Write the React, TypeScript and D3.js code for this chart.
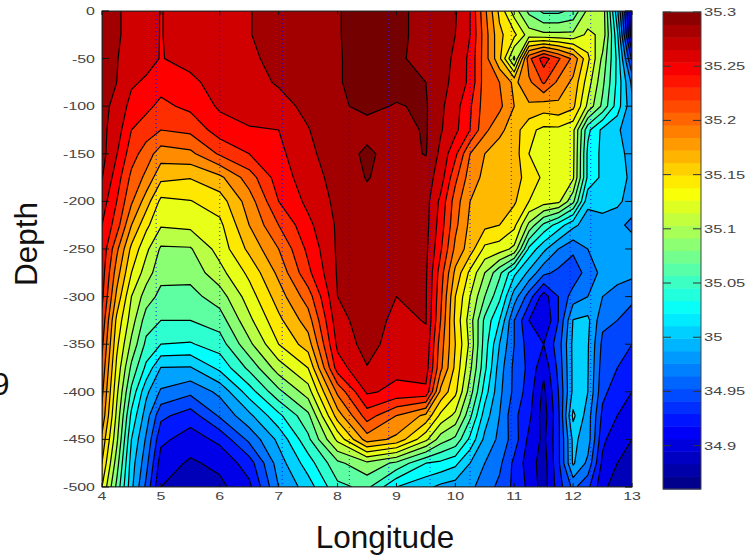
import React from "react";
import * as d3 from "d3";

const lons = [4, 4.25, 4.5, 4.75, 5, 5.5, 6, 6.5, 7, 7.5, 8, 8.5, 9, 9.5, 9.75, 10, 10.25, 10.5, 10.75, 11, 11.25, 11.5, 11.75, 12, 12.25, 12.5, 12.75, 13];
const depths = [0, -25, -50, -75, -100, -125, -150, -175, -200, -225, -250, -275, -300, -325, -350, -375, -400, -425, -450, -475, -500];

// salinity, one list per longitude, top to bottom
const salinity = [
  [35.285, 35.285, 35.285, 35.28, 35.28, 35.28, 35.282, 35.276, 35.265, 35.255, 35.25, 35.245, 35.24, 35.23, 35.22, 35.21, 35.2, 35.19, 35.17, 35.155, 35.135],
  [35.277, 35.277, 35.276, 35.275, 35.27, 35.265, 35.256, 35.245, 35.235, 35.225, 35.2, 35.185, 35.17, 35.15, 35.14, 35.13, 35.12, 35.11, 35.1, 35.085, 35.07],
  [35.27, 35.27, 35.265, 35.258, 35.248, 35.235, 35.224, 35.21, 35.198, 35.175, 35.15, 35.135, 35.115, 35.105, 35.09, 35.07, 35.05, 35.03, 35.015, 35.005, 35.0],
  [35.265, 35.265, 35.262, 35.252, 35.24, 35.225, 35.205, 35.19, 35.165, 35.14, 35.12, 35.105, 35.085, 35.065, 35.05, 35.03, 35.0, 34.985, 34.972, 34.962, 34.95],
  [35.254, 35.254, 35.254, 35.243, 35.23, 35.215, 35.185, 35.16, 35.13, 35.117, 35.092, 35.082, 35.069, 35.055, 35.035, 34.994, 34.972, 34.94, 34.92, 34.905, 34.895],
  [35.268, 35.268, 35.262, 35.25, 35.24, 35.22, 35.19, 35.156, 35.134, 35.12, 35.093, 35.082, 35.068, 35.055, 35.033, 34.993, 34.96, 34.925, 34.905, 34.892, 34.885],
  [35.272, 35.27, 35.268, 35.264, 35.258, 35.245, 35.218, 35.17, 35.145, 35.13, 35.123, 35.108, 35.085, 35.065, 35.045, 35.02, 34.98, 34.958, 34.92, 34.9, 34.89],
  [35.274, 35.274, 35.272, 35.268, 35.265, 35.253, 35.235, 35.205, 35.185, 35.175, 35.16, 35.14, 35.125, 35.11, 35.09, 35.06, 35.025, 34.99, 34.96, 34.925, 34.91],
  [35.285, 35.285, 35.28, 35.277, 35.268, 35.255, 35.25, 35.245, 35.235, 35.215, 35.195, 35.18, 35.165, 35.15, 35.135, 35.105, 35.07, 35.03, 35.0, 34.985, 34.975],
  [35.288, 35.288, 35.285, 35.283, 35.28, 35.274, 35.27, 35.265, 35.26, 35.25, 35.24, 35.23, 35.205, 35.185, 35.165, 35.135, 35.105, 35.07, 35.05, 35.025, 35.005],
  [35.294, 35.294, 35.294, 35.294, 35.293, 35.29, 35.287, 35.283, 35.28, 35.278, 35.278, 35.277, 35.275, 35.268, 35.26, 35.245, 35.2, 35.165, 35.12, 35.07, 35.05],
  [35.302, 35.302, 35.3, 35.3, 35.298, 35.29, 35.298, 35.296, 35.29, 35.285, 35.285, 35.285, 35.285, 35.285, 35.283, 35.274, 35.258, 35.225, 35.185, 35.09, 35.06],
  [35.302, 35.302, 35.3, 35.3, 35.294, 35.288, 35.288, 35.287, 35.287, 35.287, 35.286, 35.282, 35.275, 35.27, 35.265, 35.26, 35.25, 35.195, 35.17, 35.07, 35.015],
  [35.285, 35.285, 35.285, 35.295, 35.297, 35.297, 35.296, 35.285, 35.283, 35.282, 35.28, 35.278, 35.277, 35.276, 35.27, 35.265, 35.25, 35.17, 35.12, 35.035, 35.0],
  [35.282, 35.282, 35.282, 35.281, 35.279, 35.277, 35.27, 35.265, 35.25, 35.245, 35.238, 35.225, 35.22, 35.215, 35.205, 35.2, 35.17, 35.13, 35.085, 35.03, 34.99],
  [35.277, 35.275, 35.272, 35.27, 35.263, 35.26, 35.24, 35.22, 35.205, 35.2, 35.19, 35.17, 35.155, 35.15, 35.155, 35.15, 35.14, 35.11, 35.07, 35.02, 34.985],
  [35.255, 35.255, 35.25, 35.25, 35.238, 35.235, 35.195, 35.185, 35.175, 35.17, 35.165, 35.13, 35.115, 35.105, 35.11, 35.1, 35.085, 35.06, 35.03, 34.995, 34.98],
  [35.2, 35.205, 35.205, 35.205, 35.205, 35.2, 35.175, 35.17, 35.165, 35.16, 35.13, 35.095, 35.075, 35.05, 35.045, 35.04, 35.025, 35.005, 34.99, 34.975, 34.965],
  [35.15, 35.16, 35.16, 35.195, 35.2, 35.18, 35.165, 35.16, 35.158, 35.155, 35.125, 35.06, 35.04, 35.015, 34.995, 34.985, 34.98, 34.975, 34.97, 34.96, 34.95],
  [35.105, 35.14, 35.09, 35.17, 35.175, 35.165, 35.165, 35.16, 35.158, 35.14, 35.11, 35.02, 34.985, 34.955, 34.955, 34.95, 34.95, 34.94, 34.945, 34.93, 34.93],
  [35.07, 35.105, 35.21, 35.19, 35.172, 35.14, 35.135, 35.15, 35.135, 35.09, 35.03, 34.99, 34.945, 34.915, 34.925, 34.93, 34.925, 34.92, 34.91, 34.905, 34.91],
  [35.05, 35.1, 35.245, 35.218, 35.165, 35.13, 35.125, 35.13, 35.125, 35.05, 35.0, 34.96, 34.905, 34.895, 34.915, 34.9, 34.89, 34.885, 34.89, 34.885, 34.885],
  [35.05, 35.1, 35.218, 35.19, 35.17, 35.13, 35.12, 35.12, 35.12, 35.025, 34.975, 34.95, 34.935, 34.935, 34.945, 34.94, 34.935, 34.93, 34.93, 34.93, 34.925],
  [35.06, 35.1, 35.19, 35.17, 35.16, 35.12, 35.12, 35.118, 35.08, 35.0, 34.96, 34.94, 34.965, 34.996, 35.0, 35.0, 35.0, 35.02, 35.0, 34.998, 34.96],
  [35.1, 35.12, 35.14, 35.125, 35.11, 35.04, 35.03, 35.03, 35.0, 34.985, 34.975, 34.965, 34.975, 35.0, 34.997, 34.996, 34.995, 34.985, 34.985, 34.97, 34.94],
  [35.11, 35.11, 35.09, 35.08, 35.07, 35.01, 35.01, 35.01, 35.005, 34.985, 34.98, 34.98, 34.975, 34.96, 34.95, 34.945, 34.94, 34.93, 34.92, 34.91, 34.9],
  [35.0, 35.02, 35.03, 35.03, 35.025, 35.0, 35.005, 35.005, 35.0, 34.98, 34.985, 34.98, 34.97, 34.955, 34.94, 34.935, 34.925, 34.915, 34.9, 34.895, 34.885],
  [34.87, 34.88, 34.93, 34.97, 34.98, 34.975, 34.985, 34.99, 34.985, 34.97, 34.985, 34.98, 34.96, 34.945, 34.935, 34.925, 34.915, 34.905, 34.895, 34.885, 34.88],
];

const levels = d3.range(34.875, 35.3, 0.02);
const stationLons = [4.92, 6.0, 7.06, 8.2, 8.87, 9.57, 10.25, 10.95, 11.6, 11.95, 12.3];
const lonTicks = [4, 5, 6, 7, 8, 9, 10, 11, 12, 13];
const depthTicks = [0, -50, -100, -150, -200, -250, -300, -350, -400, -450, -500];
const barTicks = [34.9, 34.95, 35, 35.05, 35.1, 35.15, 35.2, 35.25, 35.3];
const salMin = 34.86;
const salMax = 35.3;
const barBands = 38;

const jet = (t: number) => {
  const c = (v: number) => Math.round(255 * Math.max(0, Math.min(1, v)));
  const r = Math.min(4 * t - 1.5, -4 * t + 4.5);
  const g = Math.min(4 * t - 0.5, -4 * t + 3.5);
  const b = Math.min(4 * t + 0.5, -4 * t + 2.5);
  return `rgb(${c(r)},${c(g)},${c(b)})`;
};
const bandColor = (level: number) => jet((level + 0.01 - salMin) / (salMax - salMin));

const x = d3.scaleLinear().domain([4, 13]).range([102, 632]);
const y = d3.scaleLinear().domain([0, -500]).range([11, 487]);
const barY = d3.scaleLinear().domain([salMin, salMax]).range([489, 12]);

// contour grid coordinates -> pixels (samples sit at cell centres)
const gridX = d3.scaleLinear().domain(lons.map((_, i) => i + 0.5)).range(lons.map((l) => x(l))).clamp(true);
const gridY = d3.scaleLinear().domain(depths.map((_, i) => i + 0.5)).range(depths.map((d) => y(d))).clamp(true);

const App = () => {
  const nx = lons.length;
  const ny = depths.length;
  const flat: number[] = [];
  for (let j = 0; j < ny; j++) for (let i = 0; i < nx; i++) flat.push(salinity[i][j]);

  const contours = d3.contours().size([nx, ny]).thresholds(levels)(flat);
  const path = d3.geoPath(
    d3.geoTransform({
      point(px: number, py: number) {
        this.stream.point(gridX(px), gridY(py));
      },
    })
  );

  const tickColor = "#444";
  const small = { fontFamily: "Liberation Sans", fontSize: 11, fill: tickColor };
  const big = { fontFamily: "Liberation Sans", fontSize: 31.5, fill: "#111" };

  return (
    <svg width={750} height={557} style={{ position: "absolute", left: 0, top: 0 }}>
      <defs>
        <clipPath id="plot">
          <rect x={x(4)} y={y(0)} width={x(13) - x(4)} height={y(-500) - y(0)} />
        </clipPath>
      </defs>
      <g clipPath="url(#plot)">
        <rect x={x(4)} y={y(0)} width={x(13) - x(4)} height={y(-500) - y(0)} fill={jet(0.03)} />
        {contours.map((c) => (
          <path key={c.value} d={path(c) || ""} fill={bandColor(c.value)} stroke="#000" strokeWidth={1.2} strokeLinejoin="round" />
        ))}
        {stationLons.map((l) => (
          <line key={l} x1={x(l)} x2={x(l)} y1={y(0)} y2={y(-500)} stroke="#0000ff" strokeWidth={1} strokeDasharray="1 3" opacity={0.85} />
        ))}
      </g>
      <rect x={x(4)} y={y(0)} width={x(13) - x(4)} height={y(-500) - y(0)} fill="none" stroke="#333" strokeWidth={1} />

      {depthTicks.map((d) => (
        <g key={d}>
          <line x1={x(4)} x2={x(4) + 7} y1={y(d)} y2={y(d)} stroke="#111" />
          <line x1={x(13)} x2={x(13) - 7} y1={y(d)} y2={y(d)} stroke="#111" />
          <text transform={`translate(95,${y(d) + 4}) scale(1.45,1)`} textAnchor="end" {...small}>{d}</text>
        </g>
      ))}
      {lonTicks.map((l) => (
        <g key={l}>
          <line x1={x(l)} x2={x(l)} y1={y(-500)} y2={y(-500) - 4} stroke="#111" />
          <line x1={x(l)} x2={x(l)} y1={y(0)} y2={y(0) + 4} stroke="#111" />
          <text transform={`translate(${x(l)},${y(-500) + 13}) scale(1.45,1)`} textAnchor="middle" {...small}>{l}</text>
        </g>
      ))}

      {d3.range(barBands).map((k) => {
        const lo = salMin + (k * (salMax - salMin)) / barBands;
        const hi = salMin + ((k + 1) * (salMax - salMin)) / barBands;
        return <rect key={k} x={663} width={38} y={barY(hi)} height={barY(lo) - barY(hi) + 0.5} fill={jet((k + 0.5) / barBands)} />;
      })}
      <rect x={663} y={barY(salMax)} width={38} height={barY(salMin) - barY(salMax)} fill="none" stroke="#444" />
      {barTicks.map((t) => (
        <g key={t}>
          <line x1={663} x2={671} y1={barY(t)} y2={barY(t)} stroke="#333" />
          <line x1={693} x2={701} y1={barY(t)} y2={barY(t)} stroke="#333" />
          <text transform={`translate(704,${barY(t) + 4}) scale(1.5,1)`} {...small}>{t}</text>
        </g>
      ))}

      <text x={385} y={548} textAnchor="middle" {...big}>Longitude</text>
      <text transform="translate(37,244) rotate(-90)" textAnchor="middle" {...big}>Depth</text>
      <text x={-8} y={395} {...big}>9</text>
    </svg>
  );
};

export default App;
